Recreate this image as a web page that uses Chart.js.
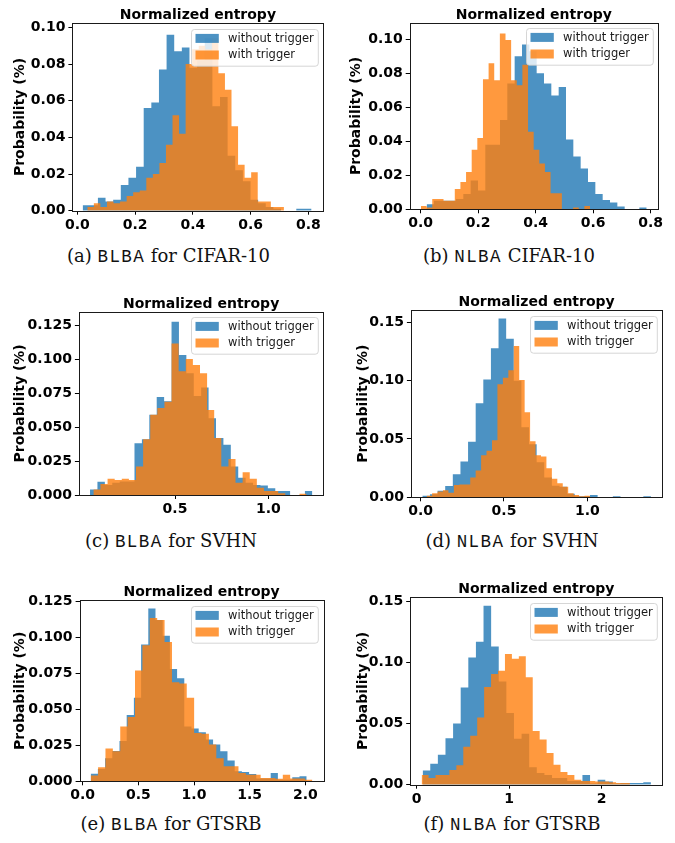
<!DOCTYPE html>
<html>
<head>
<meta charset="utf-8">
<script src="https://cdn.jsdelivr.net/npm/chart.js@4.4.1/dist/chart.umd.min.js"></script>
<style>
  html, body { margin: 0; padding: 0; background: #fff; }
  #fig { position: relative; width: 675px; height: 843px; overflow: hidden; background: #fff; }
  .panel { position: absolute; }
  .panel canvas { display: block; }
  .cap {
    position: absolute; white-space: nowrap; transform: translateX(-50%);
    font-family: "DejaVu Serif", serif; font-size: 18px; line-height: 19px; color: #111;
  }
  .cap .tt { font-family: "Liberation Mono", monospace; font-size: 17.5px; letter-spacing: 1.4px; }
</style>
</head>
<body>
<div id="fig"></div>
<script>
// Normalized-entropy histograms: fraction of samples in each of 30 equal-width bins,
// with the [first edge, last edge] of the binned range.

// (a) BLBA, CIFAR-10
const blbaCifarWithout = [0.003,0.003,0.007,0.005,0.006,0.014,0.018,0.024,0.056,0.059,0.077,0.096,0.087,0.089,0.078,0.082,0.094,0.057,0.062,0.030,0.022,0.016,0.006,0.004,0.002,0.001,0,0,0.001,0.001];
const blbaCifarWithoutRange = [0.0185, 0.811];
const blbaCifarWith = [0.002,0.004,0.002,0.005,0.004,0.005,0.008,0.010,0.011,0.018,0.020,0.026,0.036,0.052,0.042,0.080,0.088,0.090,0.088,0.094,0.075,0.066,0.046,0.025,0.018,0.021,0.005,0.005,0.002,0.002];
const blbaCifarWithRange = [0.0346, 0.7154];

// (b) NLBA, CIFAR-10
const nlbaCifarWithout = [0.003,0.005,0.005,0.005,0.006,0.009,0.017,0.011,0.038,0.038,0.0525,0.074,0.090,0.097,0.093,0.080,0.074,0.067,0.072,0.041,0.031,0.024,0.016,0.009,0.0055,0.004,0.0016,0,0,0.001];
const nlbaCifarWithoutRange = [0.0209, 0.786];
const nlbaCifarWith = [0.002,0.001,0.006,0.006,0.005,0.005,0.012,0.016,0.022,0.035,0.042,0.0765,0.086,0.076,0.1035,0.0996,0.076,0.073,0.085,0.0457,0.035,0.027,0.022,0.0094,0.0094,0,0,0.001,0,0.002];
const nlbaCifarWithRange = [0.0012, 0.589];

// (c) BLBA, SVHN
const blbaSvhnWithout = [0.004,0.0098,0.0074,0.009,0.010,0.010,0.038,0.041,0.059,0.072,0.069,0.1275,0.103,0.0895,0.0728,0.079,0.0564,0.042,0.037,0.021,0.0127,0.009,0.0074,0.0069,0.005,0.003,0.003,0,0,0.003];
const blbaSvhnWithoutRange = [0.0446, 1.2357];
const blbaSvhnWith = [0.004,0.008,0.012,0.011,0.012,0.011,0.021,0.041,0.059,0.064,0.0686,0.1115,0.091,0.100,0.0956,0.0895,0.0625,0.042,0.021,0.0265,0.009,0.0167,0.012,0.0054,0.003,0.003,0.0012,0,0,0.001];
const blbaSvhnWithRange = [0.0625, 1.205];

// (d) NLBA, SVHN
const nlbaSvhnWithout = [0.0014,0.0026,0.0057,0.0097,0.0197,0.0306,0.0477,0.0806,0.101,0.1277,0.1534,0.136,0.100,0.060,0.0454,0.030,0.017,0.010,0.009,0.003,0.001,0.001,0.002,0,0,0.001,0,0,0,0.001];
const nlbaSvhnWithoutRange = [0.01, 1.382];
const nlbaSvhnWith = [0.0014,0.0034,0.0049,0.006,0.004,0.0106,0.011,0.011,0.017,0.023,0.036,0.040,0.049,0.097,0.1026,0.109,0.1297,0.1006,0.073,0.048,0.036,0.035,0.025,0.016,0.012,0.009,0.0034,0.002,0.001,0.0014];
const nlbaSvhnWithRange = [0.036, 1.016];

// (e) BLBA, GTSRB
const blbaGtsrbWithout = [0.0053,0.0085,0.016,0.021,0.028,0.046,0.058,0.095,0.120,0.112,0.101,0.078,0.0715,0.038,0.0366,0.034,0.029,0.0255,0.0208,0.0144,0.007,0.0065,0.005,0.002,0.002,0.0058,0.001,0.001,0.0028,0.0035];
const blbaGtsrbWithoutRange = [0.0719, 2.012];
const blbaGtsrbWith = [0.004,0.0097,0.0227,0.0208,0.038,0.0447,0.077,0.0944,0.1134,0.112,0.0968,0.0688,0.068,0.058,0.0336,0.033,0.0255,0.016,0.0104,0.0104,0.0058,0.0046,0.0046,0.0023,0.0023,0.0018,0.0046,0.002,0.002,0.001];
const blbaGtsrbWithRange = [0.0719, 2.063];

// (f) NLBA, GTSRB
const nlbaGtsrbWithout = [0.0117,0.0172,0.0245,0.038,0.050,0.0796,0.104,0.117,0.1464,0.113,0.0845,0.0586,0.0376,0.0417,0.0142,0.0095,0.008,0.0055,0.0055,0.003,0.003,0.008,0.001,0.004,0.0027,0.001,0.0014,0.0014,0.0014,0.002];
const nlbaGtsrbWithoutRange = [0.065, 2.533];
const nlbaGtsrbWith = [0.008,0.0055,0.008,0.008,0.012,0.016,0.031,0.040,0.055,0.080,0.0905,0.0933,0.107,0.103,0.105,0.0878,0.044,0.037,0.026,0.0164,0.0104,0.008,0.004,0.003,0.003,0.0027,0.0027,0.002,0.0014,0.0014];
const nlbaGtsrbWithRange = [0.054, 2.306];

// Series names and axis ticks
const seriesLabels = ['without trigger', 'with trigger'];
const panelTitle = 'Normalized entropy';
const yAxisTitle = 'Probability (%)';

const xTicksCifar = [0, 0.2, 0.4, 0.6, 0.8];
const xTickLabelsCifar = ['0.0', '0.2', '0.4', '0.6', '0.8'];
const yTicksCifar = [0, 0.02, 0.04, 0.06, 0.08, 0.10];
const yTickLabelsCifar = ['0.00', '0.02', '0.04', '0.06', '0.08', '0.10'];

const xTicksBlbaSvhn = [0.5, 1.0];
const xTickLabelsBlbaSvhn = ['0.5', '1.0'];
const xTicksNlbaSvhn = [0, 0.5, 1.0];
const xTickLabelsNlbaSvhn = ['0.0', '0.5', '1.0'];
const xTicksBlbaGtsrb = [0, 0.5, 1.0, 1.5, 2.0];
const xTickLabelsBlbaGtsrb = ['0.0', '0.5', '1.0', '1.5', '2.0'];
const xTicksNlbaGtsrb = [0, 1, 2];
const xTickLabelsNlbaGtsrb = ['0', '1', '2'];

const yTicksFine = [0, 0.025, 0.05, 0.075, 0.10, 0.125];
const yTickLabelsFine = ['0.000', '0.025', '0.050', '0.075', '0.100', '0.125'];
const yTicksCoarse = [0, 0.05, 0.10, 0.15];
const yTickLabelsCoarse = ['0.00', '0.05', '0.10', '0.15'];

// Sub-figure captions: [tag, method, rest]
const captions = [
  ['(a)', 'BLBA', 'for CIFAR-10'],
  ['(b)', 'NLBA', 'CIFAR-10'],
  ['(c)', 'BLBA', 'for SVHN'],
  ['(d)', 'NLBA', 'for SVHN'],
  ['(e)', 'BLBA', 'for GTSRB'],
  ['(f)', 'NLBA', 'for GTSRB']
];

// ---------------------------------------------------------------------------
const FONT = "'DejaVu Sans', sans-serif";
const BLUE = 'rgba(31,119,180,0.8)';
const ORANGE = 'rgba(255,127,14,0.8)';
Chart.defaults.font.family = FONT;
Chart.defaults.color = '#000';

// bin edges -> stepped points (last edge closes the outline at zero)
function histPoints(values, range) {
  const lo = range[0], hi = range[1], n = values.length, w = (hi - lo) / n;
  const pts = values.map((v, k) => ({ x: lo + k * w, y: v }));
  pts.push({ x: hi, y: 0 });
  return pts;
}

// four-sided axes frame plus the centred panel title
const framePlugin = {
  id: 'frame',
  afterDraw(chart, args, opts) {
    const { ctx, chartArea: a } = chart;
    const l = Math.round(a.left) + 0.5, t = Math.round(a.top) + 0.5;
    const r = Math.round(a.right) + 0.5, b = Math.round(a.bottom) + 0.5;
    ctx.save();
    ctx.strokeStyle = '#1a1a1a';
    ctx.lineWidth = 1;
    ctx.strokeRect(l, t, r - l, b - t);
    ctx.fillStyle = '#000';
    ctx.font = 'bold 14px ' + FONT;
    ctx.textAlign = 'center';
    ctx.textBaseline = 'alphabetic';
    ctx.fillText(opts.title, (a.left + a.right) / 2, a.top - 4);
    ctx.restore();
  }
};

// framed, semi-transparent legend in the upper-right corner
function roundRectPath(ctx, x, y, w, h, r) {
  ctx.beginPath();
  ctx.moveTo(x + r, y);
  ctx.lineTo(x + w - r, y); ctx.arcTo(x + w, y, x + w, y + r, r);
  ctx.lineTo(x + w, y + h - r); ctx.arcTo(x + w, y + h, x + w - r, y + h, r);
  ctx.lineTo(x + r, y + h); ctx.arcTo(x, y + h, x, y + h - r, r);
  ctx.lineTo(x, y + r); ctx.arcTo(x, y, x + r, y, r);
  ctx.closePath();
}
const boxLegendPlugin = {
  id: 'boxLegend',
  afterDatasetsDraw(chart, args, opts) {
    const { ctx, chartArea: a } = chart;
    const items = chart.data.datasets.map(d => ({ text: d.label, color: d.backgroundColor }));
    ctx.save();
    ctx.font = '11.5px ' + FONT;
    const tw = Math.max(...items.map(i => ctx.measureText(i.text).width));
    const sw = 23.3, sh = 9, gap = 9.3, pad = 4;
    const w = pad + sw + gap + tw + 4.5, h = 36.7;
    const x = Math.round(a.right - opts.inset - w) + 0.5, y = Math.round(a.top + opts.inset) + 0.5;
    roundRectPath(ctx, x, y, w, h, 3);
    ctx.fillStyle = 'rgba(255,255,255,0.8)';
    ctx.fill();
    ctx.strokeStyle = 'rgba(204,204,204,0.8)';
    ctx.lineWidth = 1;
    ctx.stroke();
    items.forEach((it, i) => {
      const cy = y + 8.9 + i * 16.6;
      ctx.fillStyle = it.color;
      ctx.fillRect(x + pad, cy - sh / 2, sw, sh);
      ctx.fillStyle = '#1a1a1a';
      ctx.textBaseline = 'middle';
      ctx.textAlign = 'left';
      ctx.fillText(it.text, x + pad + sw + gap, cy + 0.5);
    });
    ctx.restore();
  }
};

const panels = [
  { left: 0,   top: 0,   w: 337, h: 240, area: { l: 72.4, r: 323.4, t: 23.3, b: 210.7 }, yTitleX: 20.5,
    without: blbaCifarWithout, withoutRange: blbaCifarWithoutRange, with: blbaCifarWith, withRange: blbaCifarWithRange,
    xlim: [-0.017, 0.852], ymax: 0.1022, xTicks: xTicksCifar, xLabels: xTickLabelsCifar, yTicks: yTicksCifar, yLabels: yTickLabelsCifar,
    cap: { x: 168.5, y: 245.5 } },
  { left: 337, top: 0,   w: 338, h: 240, area: { l: 72.7, r: 320.9, t: 22.7, b: 209.3 }, yTitleX: 19,
    without: nlbaCifarWithout, withoutRange: nlbaCifarWithoutRange, with: nlbaCifarWith, withRange: nlbaCifarWithRange,
    xlim: [-0.038, 0.825], ymax: 0.1098, xTicks: xTicksCifar, xLabels: xTickLabelsCifar, yTicks: yTicksCifar, yLabels: yTickLabelsCifar,
    cap: { x: 509, y: 245.5 } },
  { left: 0,   top: 285, w: 337, h: 240, area: { l: 78.9, r: 323.4, t: 26.7, b: 210 }, yTitleX: 20,
    without: blbaSvhnWithout, withoutRange: blbaSvhnWithoutRange, with: blbaSvhnWith, withRange: blbaSvhnWithRange,
    xlim: [-0.015, 1.295], ymax: 0.1348, xTicks: xTicksBlbaSvhn, xLabels: xTickLabelsBlbaSvhn, yTicks: yTicksFine, yLabels: yTickLabelsFine,
    cap: { x: 171, y: 530.5 } },
  { left: 337, top: 285, w: 338, h: 240, area: { l: 73.9, r: 325.3, t: 25, b: 212.3 }, yTitleX: 26,
    without: nlbaSvhnWithout, withoutRange: nlbaSvhnWithoutRange, with: nlbaSvhnWith, withRange: nlbaSvhnWithRange,
    xlim: [-0.0586, 1.45], ymax: 0.1606, xTicks: xTicksNlbaSvhn, xLabels: xTickLabelsNlbaSvhn, yTicks: yTicksCoarse, yLabels: yTickLabelsCoarse,
    cap: { x: 512, y: 530.5 } },
  { left: 0,   top: 568, w: 337, h: 240, area: { l: 79.6, r: 323.5, t: 32.3, b: 213.3 }, yTitleX: 20,
    without: blbaGtsrbWithout, withoutRange: blbaGtsrbWithoutRange, with: blbaGtsrbWith, withRange: blbaGtsrbWithRange,
    xlim: [-0.0277, 2.163], ymax: 0.1257, xTicks: xTicksBlbaGtsrb, xLabels: xTickLabelsBlbaGtsrb, yTicks: yTicksFine, yLabels: yTickLabelsFine,
    cap: { x: 171, y: 813.5 } },
  { left: 337, top: 568, w: 338, h: 240, area: { l: 73.2, r: 325.4, t: 29.3, b: 216.7 }, yTitleX: 26,
    without: nlbaGtsrbWithout, withoutRange: nlbaGtsrbWithoutRange, with: nlbaGtsrbWith, withRange: nlbaGtsrbWithRange,
    xlim: [-0.0696, 2.657], ymax: 0.1533, xTicks: xTicksNlbaGtsrb, xLabels: xTickLabelsNlbaGtsrb, yTicks: yTicksCoarse, yLabels: yTickLabelsCoarse,
    cap: { x: 512, y: 813.5 } }
];

const fig = document.getElementById('fig');
const tickFont = { family: FONT, size: 14, weight: 'bold' };

panels.forEach((p, idx) => {
  const wrap = document.createElement('div');
  wrap.className = 'panel';
  wrap.style.left = p.left + 'px';
  wrap.style.top = p.top + 'px';
  const cv = document.createElement('canvas');
  cv.width = p.w; cv.height = p.h;
  cv.style.width = p.w + 'px'; cv.style.height = p.h + 'px';
  wrap.appendChild(cv);
  fig.appendChild(wrap);

  new Chart(cv, {
    type: 'line',
    data: {
      datasets: [
        { label: seriesLabels[0], data: histPoints(p.without, p.withoutRange), backgroundColor: BLUE,
          borderColor: 'rgba(0,0,0,0)', borderWidth: 0, fill: 'origin', stepped: true, pointRadius: 0, order: 2 },
        { label: seriesLabels[1], data: histPoints(p.with, p.withRange), backgroundColor: ORANGE,
          borderColor: 'rgba(0,0,0,0)', borderWidth: 0, fill: 'origin', stepped: true, pointRadius: 0, order: 1 }
      ]
    },
    options: {
      responsive: false,
      animation: false,
      events: [],
      layout: { padding: { left: 0, right: p.w - p.area.r, top: p.area.t, bottom: 0 } },
      plugins: {
        legend: { display: false },
        tooltip: { enabled: false },
        title: { display: false },
        boxLegend: { inset: 5.5 },
        frame: { title: panelTitle }
      },
      scales: {
        x: {
          type: 'linear', min: p.xlim[0], max: p.xlim[1],
          afterBuildTicks: s => { s.ticks = p.xTicks.map(v => ({ value: v })); },
          afterFit: s => { s.height = p.h - p.area.b; },
          ticks: { font: tickFont, color: '#000', padding: 2, maxRotation: 0, autoSkip: false,
                   callback: (v, i) => p.xLabels[i] },
          grid: { drawOnChartArea: false, drawTicks: true, tickLength: 4, color: '#000', lineWidth: 1 },
          border: { display: false }
        },
        y: {
          type: 'linear', min: 0, max: p.ymax,
          afterBuildTicks: s => { s.ticks = p.yTicks.map(v => ({ value: v })); },
          afterFit: s => { s.width = p.area.l; },
          ticks: { font: tickFont, color: '#000', padding: 3, autoSkip: false,
                   callback: (v, i) => p.yLabels[i] },
          grid: { drawOnChartArea: false, drawTicks: true, tickLength: 4, color: '#000', lineWidth: 1 },
          border: { display: false },
          title: { display: true, text: yAxisTitle, color: '#000',
                   font: { family: FONT, size: 14, weight: 'bold', lineHeight: 1.2 },
                   padding: { top: p.yTitleX - 8.4, bottom: 0 } }
        }
      }
    },
    plugins: [boxLegendPlugin, framePlugin]
  });

  const c = captions[idx];
  const cap = document.createElement('div');
  cap.className = 'cap';
  cap.style.left = p.cap.x + 'px';
  cap.style.top = p.cap.y + 'px';
  cap.innerHTML = c[0] + ' <span class="tt">' + c[1] + '</span> ' + c[2];
  fig.appendChild(cap);
});
</script>
</body>
</html>
